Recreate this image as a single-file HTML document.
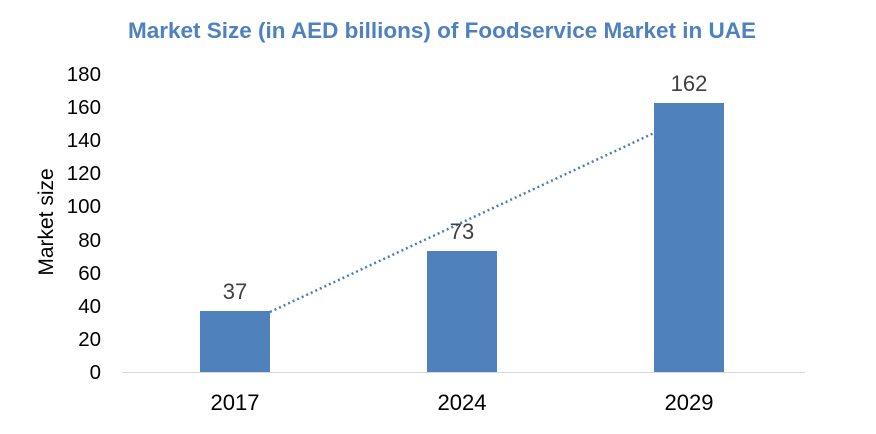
<!DOCTYPE html>
<html><head><style>body{margin:0;background:#fff}</style></head><body>
<svg width="876" height="429" xmlns="http://www.w3.org/2000/svg" font-family="Liberation Sans, Arial, sans-serif">
<rect width="876" height="429" fill="#fff"/>
<text x="442" y="38" text-anchor="middle" font-size="22.5" font-weight="bold" fill="#4f81bd">Market Size (in AED billions) of Foodservice Market in UAE</text>
<g font-size="20.5" fill="#000" text-anchor="end">
<text x="101" y="379">0</text>
<text x="101" y="346">20</text>
<text x="101" y="313">40</text>
<text x="101" y="280">60</text>
<text x="101" y="247">80</text>
<text x="101" y="213">100</text>
<text x="101" y="180">120</text>
<text x="101" y="147">140</text>
<text x="101" y="114">160</text>
<text x="101" y="81">180</text>
</g>
<text transform="translate(53,222) rotate(-90)" text-anchor="middle" font-size="21">Market size</text>
<line x1="122" y1="372.5" x2="805" y2="372.5" stroke="#d9d9d9" stroke-width="1"/>
<rect x="200" y="311" width="70" height="61" fill="#4f81bd"/>
<rect x="427" y="251" width="70" height="121" fill="#4f81bd"/>
<rect x="654" y="103" width="70" height="269" fill="#4f81bd"/>
<line x1="270" y1="312" x2="654" y2="133" stroke="#4a7ebb" stroke-width="2.5" stroke-dasharray="2,3"/>
<g font-size="22" text-anchor="middle" fill="#404040">
<text x="235" y="299">37</text>
<text x="462" y="239">73</text>
<text x="689" y="91">162</text>
</g>
<g font-size="22" text-anchor="middle">
<text x="235" y="410">2017</text>
<text x="462" y="410">2024</text>
<text x="689" y="410">2029</text>
</g>
</svg>
</body></html>
